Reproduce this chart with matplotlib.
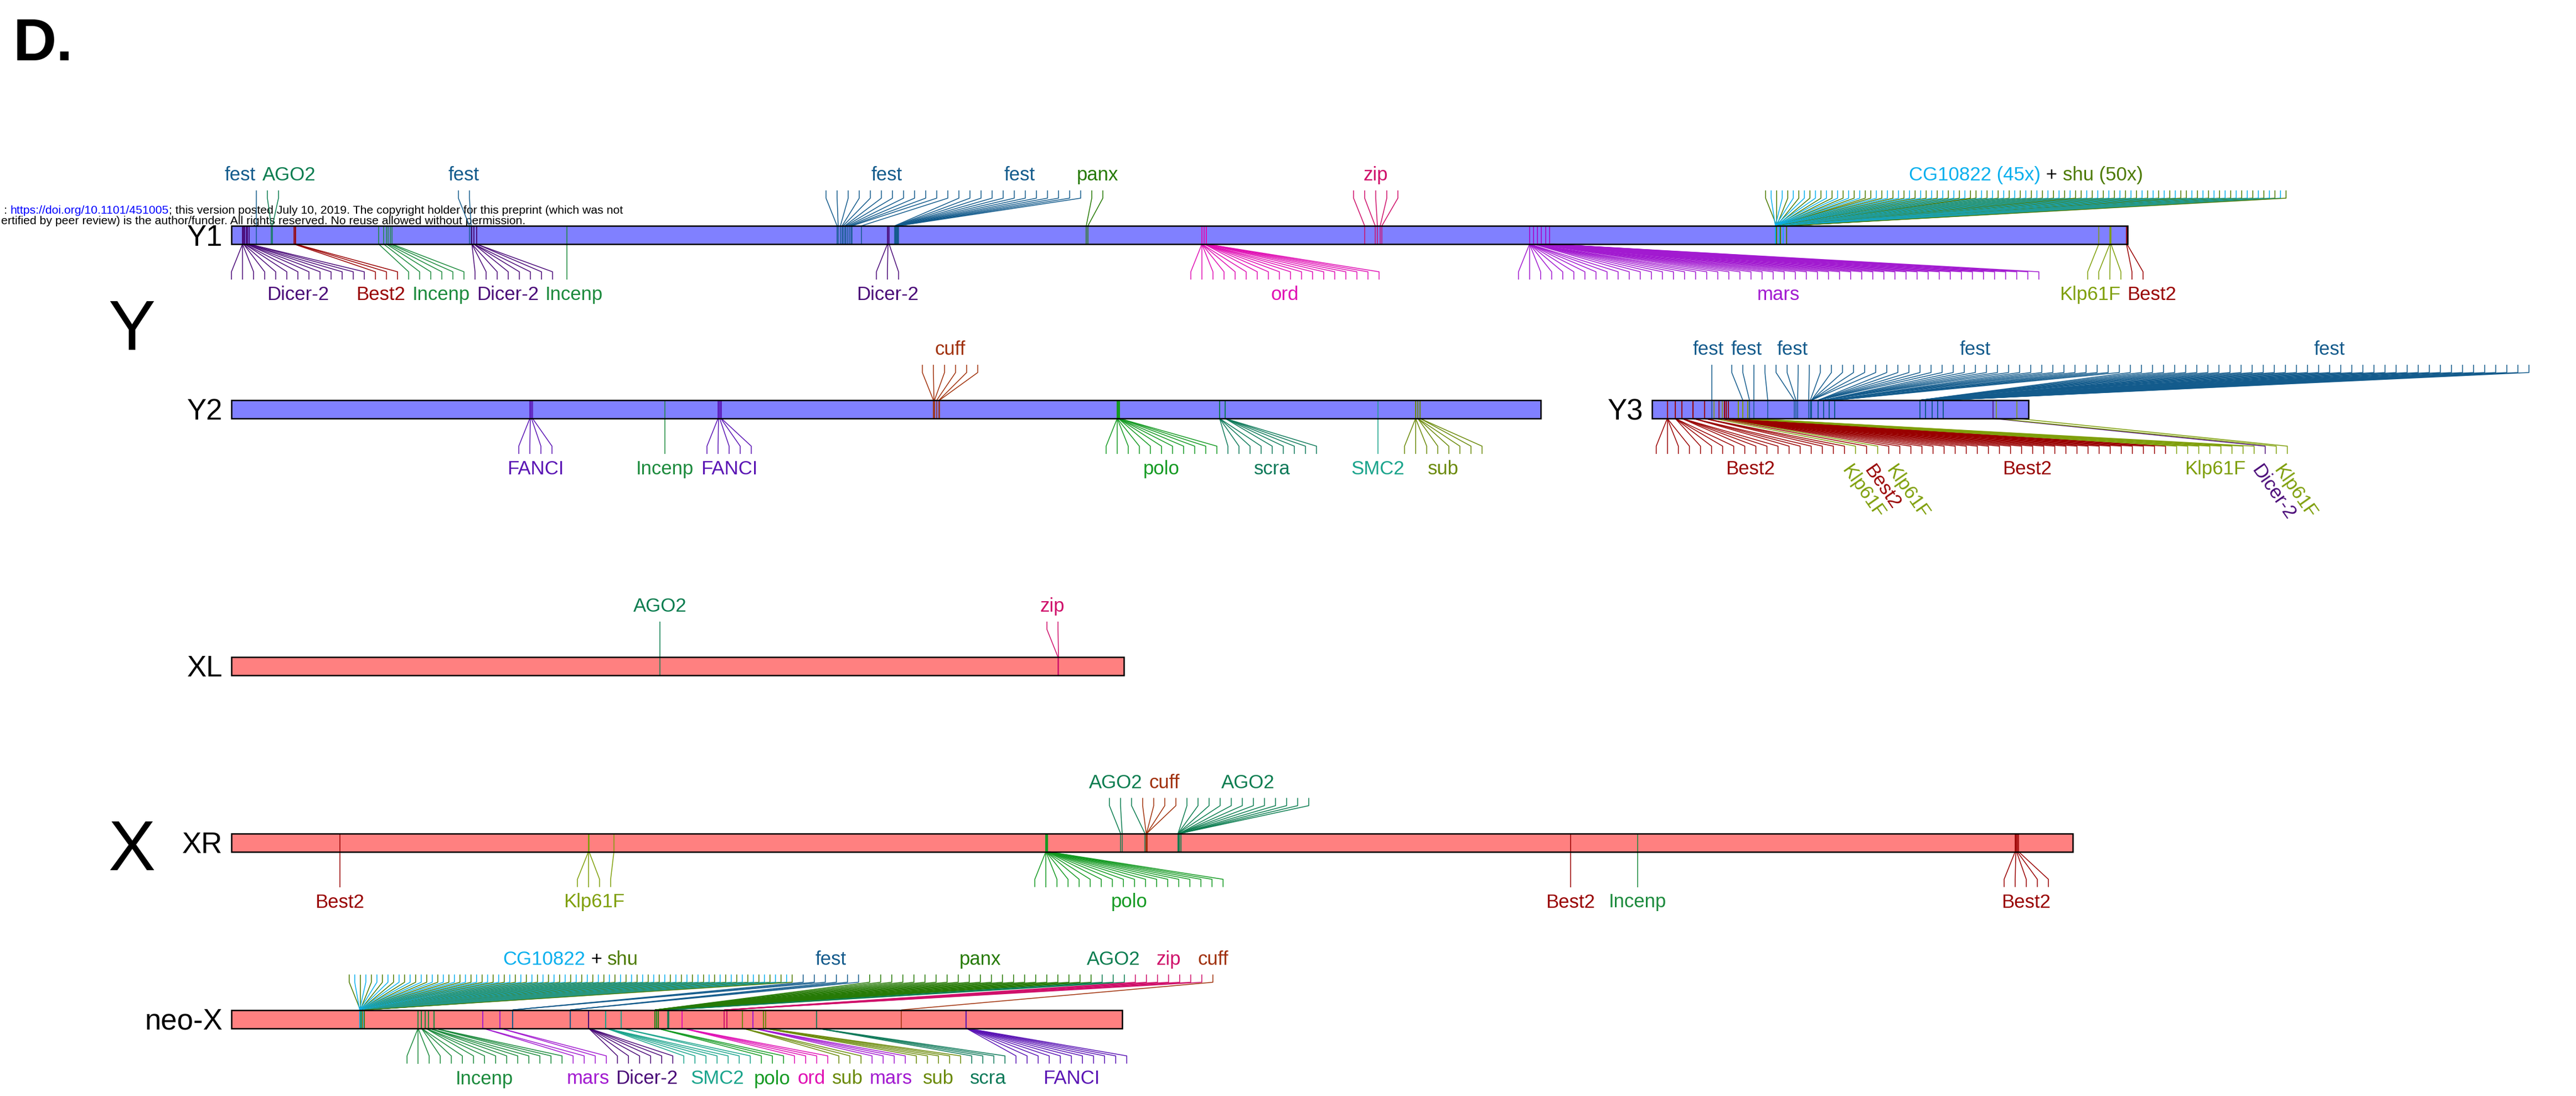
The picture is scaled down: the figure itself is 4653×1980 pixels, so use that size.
import numpy as np
import matplotlib
matplotlib.use('Agg')
import matplotlib.pyplot as plt
from matplotlib.collections import LineCollection
from matplotlib.patches import Rectangle
from matplotlib.transforms import offset_copy

plt.rcParams['font.family'] = ['Liberation Sans', 'DejaVu Sans']

# ---- gene colours ----
gene_colors = {
    'fest': '#135b8c', 'AGO2': '#0b7d50', 'Dicer-2': '#4a0a78', 'Best2': '#990000',
    'Incenp': '#1b8a3c', 'panx': '#267a06', 'zip': '#cf0f6a', 'ord': '#e010b4',
    'mars': '#a21ad0', 'CG10822': '#0ab0ee', 'shu': '#4c7a00', 'Klp61F': '#7f9f0a',
    'cuff': '#a0300a', 'FANCI': '#5a14b4', 'polo': '#149a22', 'scra': '#0f7a5a',
    'SMC2': '#1aa48c', 'sub': '#6b8a0a',
}

# ---- chromosomes (Mb) ----
chrom_names = ['Y1', 'Y2', 'Y3', 'XL', 'XR', 'neo-X']
chrom_lengths = [28.54, 19.71, 5.67, 13.43, 27.72, 13.41]

# ---- insertion positions (Mb), one entry per cluster: (gene, positions) ----
y1_cg10822 = [23.24] * 15 + [23.30] * 15 + [23.36] * 15
y1_shu = [23.26] * 17 + [23.32] * 17 + [23.41] * 16

y1_up = [
    ('fest', [0.375]),
    ('AGO2', [0.600, 0.617]),
    ('fest', [3.583, 3.608]),
    ('fest', [9.117, 9.133, 9.167, 9.192, 9.208, 9.233, 9.250, 9.275, 9.300, 9.325, 9.342, 9.483]),
    ('fest', [9.983, 9.992, 9.992, 10.000, 10.000, 10.008, 10.017, 10.025, 10.025, 10.033, 10.033, 10.042]),
    ('panx', [12.867, 12.892]),
    ('zip', [17.058, 17.217, 17.250, 17.292, 17.317]),
    (('CG10822', 'shu'), (y1_cg10822, y1_shu)),
]
y1_down = [
    ('Dicer-2', [0.167] * 3 + [0.183] * 2 + [0.200] * 2 + [0.225] * 2 + [0.242] * 2 + [0.267] * 2),
    ('Best2', [0.942, 0.958, 0.967]),
    ('Incenp', [2.217, 2.292, 2.333, 2.358, 2.392, 2.417]),
    ('Dicer-2', [3.62] * 3 + [3.65] * 3 + [3.69] * 2),
    ('Incenp', [5.05]),
    ('Dicer-2', [9.875, 9.883, 9.900]),
    ('ord', [14.608] * 6 + [14.642] * 6 + [14.675] * 6),
    ('mars', [19.54] * 10 + [19.60] * 8 + [19.66] * 8 + [19.72] * 8 + [19.78] * 8 + [19.84] * 6),
    ('Klp61F', [28.108, 28.275, 28.283, 28.292]),
    ('Best2', [28.525, 28.533]),
]

y2_up = [
    ('cuff', [10.567, 10.575, 10.583, 10.617, 10.650, 10.658]),
]
y2_down = [
    ('FANCI', [4.492, 4.500, 4.517, 4.533]),
    ('Incenp', [6.525]),
    ('FANCI', [7.325, 7.333, 7.350, 7.367, 7.375]),
    ('polo', [13.333] * 4 + [13.350] * 4 + [13.367] * 3),
    ('scra', [14.875] * 4 + [14.958] * 5),
    ('SMC2', [17.258]),
    ('sub', [17.825] * 3 + [17.858] * 3 + [17.892] * 2),
]

y3_up = [
    ('fest', [0.900]),
    ('fest', [1.367, 1.467, 1.533]),
    ('fest', [1.742, 2.142, 2.167, 2.192, 2.358, 2.383]),
    ('fest', [2.40] * 5 + [2.50] * 6 + [2.58] * 6 + [2.67] * 5 + [2.75] * 5),
    ('fest', [4.03] * 8 + [4.12] * 8 + [4.22] * 7 + [4.30] * 7 + [4.38] * 7),
]
y3_down = [
    ('Best2', [0.23] * 4 + [0.35] * 4 + [0.45] * 4 + [0.62] * 3 + [0.79] * 3),
    ('Klp61F', [0.93]),
    ('Best2', [1.01]),
    ('Klp61F', [1.06]),
    ('Best2', [1.09] * 9 + [1.12] * 9 + [1.15] * 8),
    ('Klp61F', [1.30] * 3 + [1.37] * 3 + [1.44] * 2),
    ('Dicer-2', [5.13]),
    ('Klp61F', [5.18, 5.49]),
]

xl_up = [
    ('AGO2', [6.45]),
    ('zip', [12.442, 12.450]),
]
xl_down = []

xr_up = [
    ('AGO2', [13.383, 13.408, 13.750]),
    ('cuff', [13.770, 13.775, 13.780, 13.780]),
    ('AGO2', [14.25] * 4 + [14.27] * 4 + [14.29] * 4),
]
xr_down = [
    ('Best2', [1.633]),
    ('Klp61F', [5.375, 5.375, 5.383, 5.758]),
    ('polo', [12.26] * 6 + [12.27] * 6 + [12.28] * 6),
    ('Best2', [20.158]),
    ('Incenp', [21.167]),
    ('Best2', [26.85, 26.86, 26.87, 26.88, 26.90]),
]

neox_cg10822 = [1.93] * 14 + [1.96] * 13 + [1.99] * 13
neox_shu = [1.94] * 14 + [1.97] * 14 + [2.00] * 13

neox_up = [
    (('CG10822', 'shu'), (neox_cg10822, neox_shu)),
    ('fest', [4.233] * 3 + [5.100] * 3),
    ('panx', [6.375] * 7 + [6.400] * 7 + [6.425] * 7),
    ('AGO2', [6.567, 6.575, 6.583]),
    ('zip', [7.417] * 4 + [7.458] * 3),
    ('cuff', [10.083]),
]
neox_down = [
    ('Incenp', [2.81] * 3 + [2.86] * 3 + [2.92] * 3 + [2.97] * 3 + [3.05] * 3),
    ('mars', [3.783, 3.783, 4.042, 4.042]),
    ('Dicer-2', [5.375] * 6),
    ('SMC2', [5.633] * 5 + [5.867] * 2),
    ('polo', [6.40] * 3),
    ('ord', [6.783] * 4),
    ('sub', [7.69] * 3),
    ('mars', [7.85] * 4),
    ('sub', [8.01] * 3 + [8.04] * 2),
    ('scra', [8.808] * 4),
    ('FANCI', [11.058] * 11),
]

chrom_up = [y1_up, y2_up, y3_up, xl_up, xr_up, neox_up]
chrom_down = [y1_down, y2_down, y3_down, xl_down, xr_down, neox_down]

# clusters whose labels are set at an angle, and chromosomes with counts in mixed labels
rotated = {('Y3', 'down'): [1, 2, 3, 6, 7]}
count_labels = ['Y1']

# ---- page layout (pixels) ----
W, H, DPI = 4653, 1980, 100
PX = 120.0            # pixels per Mb
STEP = 20.0           # spacing of fan ends
BAR_H = 33.0
HALF = BAR_H / 2
DIAG = 50.0
TICK = 64.0
LABEL_SIZE = 25
TILT_GAP = 40.0       # min spacing of angled labels

bar_left = [418, 418, 2984, 418, 418, 418]
bar_mid = [424.5, 739.5, 739.5, 1203.5, 1522, 1841]
bar_fill = ['#8080ff', '#8080ff', '#8080ff', '#ff8080', '#ff8080', '#ff8080']

fig = plt.figure(figsize=(W / DPI, H / DPI), dpi=DPI, facecolor='white')
renderer = fig.canvas.get_renderer()

page = fig.add_axes([0, 0, 1, 1])
page.set_xlim(0, W)
page.set_ylim(H, 0)
page.axis('off')


def text_width(s, size, weight='normal'):
    t = fig.text(0, 0, s, fontsize=size, fontweight=weight)
    w = t.get_window_extent(renderer).width
    t.remove()
    return w


def draw_runs(ax, x, y, runs, size, ha='center'):
    widths = [text_width(s, size) for s, _ in runs]
    total = sum(widths)
    off = {'center': -total / 2, 'right': -total, 'left': 0}[ha]
    for (s, c), w in zip(runs, widths):
        tr = offset_copy(ax.transData, fig=fig, x=off, y=0, units='dots')
        ax.text(x, y, s, color=c, fontsize=size, ha='left', va='baseline',
                transform=tr, clip_on=False)
        off += w


def cluster_entries(genes, positions):
    if isinstance(genes, str):
        return [(p, genes) for p in sorted(positions)], STEP
    # two genes sharing one fan: interleave them evenly
    keyed = []
    for g, ps in zip(genes, positions):
        ps = sorted(ps)
        keyed += [((i + 0.5) / len(ps), p, g) for i, p in enumerate(ps)]
    keyed.sort()
    return [(p, g) for _, p, g in keyed], STEP / 2


def repel(labels, gap=12.0):
    for _ in range(300):
        moved = False
        labels.sort(key=lambda l: l['x'])
        for a, b in zip(labels, labels[1:]):
            need = (a['w'] + b['w']) / 2 + gap
            d = b['x'] - a['x']
            if d < need - 1e-6:
                shift = (need - d) / 2
                a['x'] -= shift
                b['x'] += shift
                moved = True
        if not moved:
            break


def draw_side(ax, name, clusters, side):
    sign = 1 if side == 'up' else -1
    prev_end = -1e9
    prev_tilt = -1e9
    fan_segs, fan_cols, bar_segs = [], [], []
    labels = []
    tilt = rotated.get((name, side), [])
    for k, (genes, positions) in enumerate(clusters):
        entries, step = cluster_entries(genes, positions)
        n = len(entries)
        first = entries[0][0] - (STEP / PX if n > 1 else 0)
        start = max(first, prev_end + STEP / PX)
        ticks = start + np.arange(n) * step / PX
        prev_end = ticks[-1]
        for (p, g), t in zip(entries, ticks):
            fan_segs.append([(p, sign * HALF), (t, sign * (HALF + DIAG)),
                             (t, sign * (HALF + TICK))])
            fan_cols.append(gene_colors[g])
            bar_segs.append(([(p, -HALF), (p, HALF)], gene_colors[g]))
        centre = ticks.mean()
        if isinstance(genes, str):
            runs = [(genes, gene_colors[genes])]
        else:
            g1, g2 = genes
            if name in count_labels:
                runs = [(f'{g1} ({len(positions[0])}x)', gene_colors[g1]), (' + ', 'black'),
                        (f'{g2} ({len(positions[1])}x)', gene_colors[g2])]
            else:
                runs = [(g1, gene_colors[g1]), (' + ', 'black'), (g2, gene_colors[g2])]
        if k in tilt:
            anchor = max(centre * PX - 4, prev_tilt + TILT_GAP)
            prev_tilt = anchor
            ax.text(anchor / PX, -(HALF + TICK + 14), runs[0][0], color=runs[0][1],
                    fontsize=LABEL_SIZE, rotation=-55, rotation_mode='anchor',
                    ha='left', va='top', clip_on=False)
        else:
            w = sum(text_width(s, LABEL_SIZE) for s, _ in runs)
            labels.append({'x': centre * PX, 'w': w, 'runs': runs})

    ax.add_collection(LineCollection(fan_segs, colors=fan_cols, linewidths=1.1,
                                     clip_on=False, zorder=2))
    ax.add_collection(LineCollection([s for s, _ in bar_segs],
                                     colors=[c for _, c in bar_segs],
                                     linewidths=1.1, zorder=2))
    repel(labels)
    y = HALF + TICK + 18 if side == 'up' else -(HALF + TICK + 37)
    for lab in labels:
        draw_runs(ax, lab['x'] / PX, y, lab['runs'], LABEL_SIZE)


for name, length, up, down, x0, yc, fill in zip(chrom_names, chrom_lengths, chrom_up,
                                                  chrom_down, bar_left, bar_mid, bar_fill):
    ax = fig.add_axes([x0 / W, 1 - (yc + HALF) / H, length * PX / W, BAR_H / H])
    ax.set_xlim(0, length)
    ax.set_ylim(-HALF, HALF)
    ax.axis('off')
    ax.add_patch(Rectangle((0, -HALF), length, BAR_H, facecolor=fill,
                           edgecolor='none', zorder=1))
    ax.add_patch(Rectangle((0, -HALF), length, BAR_H, facecolor='none',
                           edgecolor='black', linewidth=1.8, zorder=3, clip_on=False))
    draw_side(ax, name, up, 'up')
    draw_side(ax, name, down, 'down')
    page.text(x0 - 16, yc + 19, name, fontsize=38, ha='right', va='baseline')

# panel letter and group letters
page.text(24, 109, 'D.', fontsize=78, fontweight='bold', ha='left', va='baseline')
page.text(238, 632, 'Y', fontsize=92, ha='center', va='baseline')
page.text(238, 1572, 'X', fontsize=92, ha='center', va='baseline')

# preprint notice running across the top left
draw_runs(page, 1125, 386, [(': ', 'black'), ('https://doi.org/10.1101/451005', '#0000ff'),
                            ('; this version posted July 10, 2019. The copyright holder for '
                             'this preprint (which was not', 'black')], 15.3, ha='right')
draw_runs(page, 949, 405, [('ertified by peer review) is the author/funder. All rights '
                            'reserved. No reuse allowed without permission.', 'black')],
          15.3, ha='right')

fig.savefig('out.png', dpi=DPI, facecolor='white')
